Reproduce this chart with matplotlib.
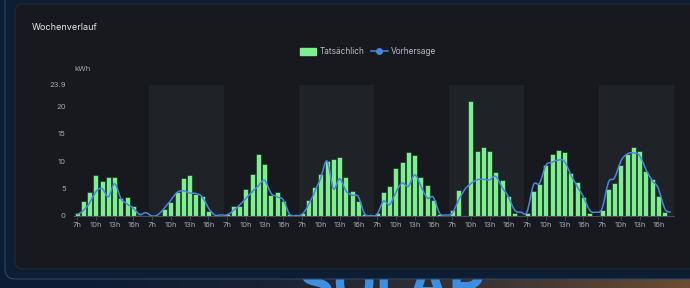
import numpy as np
import matplotlib
matplotlib.use("Agg")
import matplotlib.pyplot as plt
from matplotlib.patches import FancyBboxPatch, Rectangle, Patch, PathPatch
from matplotlib.path import Path
from matplotlib.lines import Line2D

plt.rcParams['font.family'] = ['Inter', 'DejaVu Sans']

# hours shown per day (7h .. 18h), 8 days
hours = [7, 8, 9, 10, 11, 12, 13, 14, 15, 16, 17, 18]
n_days = 8

# actual production per hour (kWh), one list per day
actual = [
    [0.5, 2.8, 4.4, 7.5, 6.3, 7.1, 7.2, 3.2, 3.4, 1.9, 0.1, 0.0],
    [0.0, 0.0, 1.3, 2.6, 4.3, 6.9, 7.4, 4.1, 3.7, 0.9, 0.0, 0.0],
    [0.4, 1.8, 1.9, 4.9, 7.6, 11.3, 9.5, 3.8, 4.4, 2.8, 0.3, 0.0],
    [0.5, 2.9, 5.2, 7.7, 10.0, 10.4, 10.8, 7.1, 4.5, 2.7, 0.4, 0.0],
    [0.6, 4.4, 5.5, 8.8, 9.8, 11.6, 11.2, 7.1, 5.7, 3.0, 0.3, 0.0],
    [1.1, 4.8, 0.0, 20.9, 11.9, 12.5, 11.9, 8.0, 6.5, 3.6, 0.5, 0.0],
    [0.6, 4.5, 5.8, 9.3, 11.4, 12.1, 11.6, 7.9, 6.2, 3.4, 0.5, 0.0],
    [1.1, 4.9, 6.0, 9.3, 11.3, 12.5, 11.8, 8.3, 6.7, 3.7, 0.8, 0.0],
]

# forecast per hour (kWh)
forecast = [
    [0.3, 1.0, 2.4, 4.4, 5.0, 3.5, 5.9, 3.2, 2.2, 1.4, 0.3, 0.6],
    [0.0, 0.3, 1.5, 2.9, 4.3, 4.6, 4.2, 4.1, 3.5, 1.5, 0.2, 0.2],
    [0.2, 1.0, 2.0, 3.2, 4.4, 5.5, 6.5, 4.2, 3.5, 2.9, 0.3, 0.1],
    [0.3, 2.0, 4.4, 7.0, 10.0, 5.0, 6.8, 4.6, 3.8, 3.5, 0.4, 0.1],
    [0.3, 2.7, 2.1, 4.3, 6.0, 5.4, 7.5, 5.5, 3.3, 3.4, 0.5, 0.2],
    [0.5, 2.8, 4.8, 5.9, 6.6, 6.7, 6.6, 7.2, 5.2, 3.5, 1.1, 0.7],
    [0.8, 5.6, 6.0, 9.2, 9.8, 10.2, 9.9, 7.5, 5.4, 3.5, 1.1, 0.7],
    [1.4, 6.1, 7.0, 10.0, 11.3, 11.5, 11.0, 8.5, 6.5, 5.0, 1.4, 0.7],
]

y_ticks = [0, 5, 10, 15, 20, 23.9]
y_max = 23.9
tick_hours = [7, 10, 13, 16]

bar_vals = np.concatenate(actual)
line_vals = np.concatenate(forecast)
x = np.arange(len(bar_vals))
labels = [f"{h}h" for d in range(n_days) for h in hours]

W, H = 690, 288
fig = plt.figure(figsize=(W / 100, H / 100), dpi=100)

# ---- background decoration (pixel coords)
bg = fig.add_axes([0, 0, 1, 1])
bg.set_xlim(0, W)
bg.set_ylim(H, 0)
bg.axis('off')
gx = np.linspace(0, 1, 200)[None, :, None]
gy = np.linspace(0, 1, 80)[:, None, None]
navy = np.array([0.05, 0.11, 0.20])
brown = np.array([0.42, 0.30, 0.20])
grad = navy + (brown - navy) * np.clip(gx ** 2 * (0.4 + 0.6 * gy), 0, 1)
bg.imshow(grad, extent=[0, W, H, 0], aspect='auto', zorder=0)
bg.add_patch(Rectangle((290, 0), 190, 6, color='#9c7d55', alpha=0.6, zorder=1))
bg.text(392, 262, "SOLAR", color='#3f8fe0', fontsize=40, fontweight='bold',
        ha='center', va='top', zorder=1)
bg.add_patch(FancyBboxPatch((5, -20), 720, 299, boxstyle="round,pad=0,rounding_size=10",
                            fc='#0d1d33', ec='#2d4866', lw=0.8, zorder=2))
bg.add_patch(FancyBboxPatch((15, 4), 720, 265, boxstyle="round,pad=0,rounding_size=8",
                            fc='#17191f', ec='#252932', lw=0.8, zorder=3))
bg.text(32, 27, "Wochenverlauf", color='#e8e8e8', fontsize=6.5, va='center', zorder=4)

# ---- chart
ax = fig.add_axes([74 / W, 1 - 216 / H, (674 - 74) / W, (216 - 85) / H])
ax.set_facecolor('none')
for d in range(1, n_days, 2):
    ax.add_patch(Rectangle((d * 12 - 0.5, 0), 12, y_max, color='#1f2227', lw=0, zorder=0))

ax.bar(x, bar_vals, width=0.78, color='#7cf08e', edgecolor='#1a1d22', linewidth=0.4, zorder=2)

# smooth curve through forecast points (bezier, chart.js-like tension)
t = 0.2
verts = [(x[0], line_vals[0])]
codes = [Path.MOVETO]
for i in range(len(x) - 1):
    p0 = line_vals[max(i - 1, 0)]
    p1 = line_vals[i]
    p2 = line_vals[i + 1]
    p3 = line_vals[min(i + 2, len(x) - 1)]
    c1 = (x[i] + 1 / 3, p1 + t * (p2 - p0))
    c2 = (x[i + 1] - 1 / 3, p2 - t * (p3 - p1))
    verts += [c1, c2, (x[i + 1], p2)]
    codes += [Path.CURVE4] * 3
ax.add_patch(PathPatch(Path(verts, codes), fill=False, ec='#4a86e0', lw=1.1, zorder=3))

ax.set_xlim(-0.5, len(x) - 0.5)
ax.set_ylim(0, y_max)
ax.set_yticks(y_ticks)
ax.set_yticklabels([f"{v:g}" for v in y_ticks])
tick_pos = [i for i in x if int(labels[i][:-1]) in tick_hours]
ax.set_xticks(tick_pos)
ax.set_xticklabels([labels[i] for i in tick_pos])
for s in ['top', 'right', 'left']:
    ax.spines[s].set_visible(False)
ax.spines['bottom'].set_color('#4a4e56')
ax.spines['bottom'].set_linewidth(0.8)
ax.tick_params(axis='x', colors='#4a4e56', labelcolor='#a4a8b0', labelsize=5.5,
               length=3, width=0.6, pad=1.5)
ax.tick_params(axis='y', length=0, labelcolor='#a4a8b0', labelsize=5.5, pad=6)
ax.text(-0.5, y_max + 2.3, "kWh", color='#a4a8b0', fontsize=5.5, ha='left', va='bottom')

handles = [Patch(fc='#7cf08e', ec='#7cf08e'),
           Line2D([], [], color='#4a86e0', lw=1.1, marker='o', ms=4)]
fig.legend(handles, ["Tatsächlich", "Vorhersage"], loc='center',
           bbox_to_anchor=(368 / W, 1 - 52 / H), ncol=2, frameon=False,
           fontsize=6, labelcolor='#b8bcc4', handlelength=2.0, handleheight=1.0,
           columnspacing=0.8, handletextpad=0.4)

fig.savefig("out.png", dpi=100)
